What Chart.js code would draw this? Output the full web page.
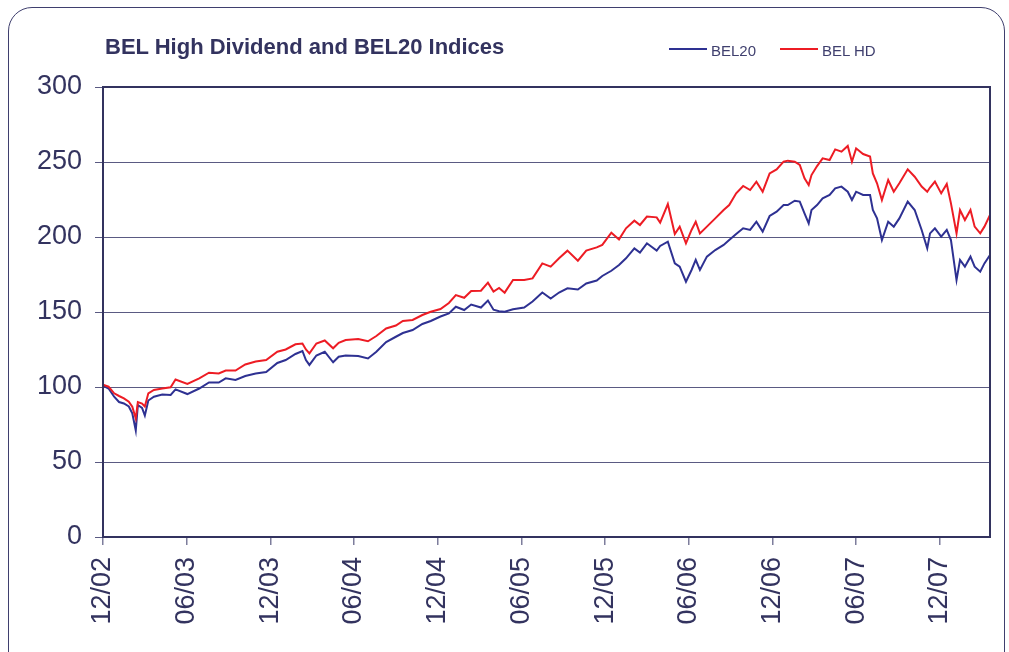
<!DOCTYPE html>
<html>
<head>
<meta charset="utf-8">
<script src="https://cdn.jsdelivr.net/npm/chart.js@4.4.0/dist/chart.umd.min.js"></script>
<style>
  html, body { margin: 0; padding: 0; background: #fff; overflow: hidden; }
  #wrap { position: relative; width: 1009px; height: 652px; }
  #frame { position: absolute; left: 8px; top: 7px; width: 995px; height: 720px;
           border: 1.5px solid #3f3f6e; border-radius: 24px; }
  #title { position: absolute; left: 105px; top: 34px; line-height: 22px; white-space: nowrap;
           font: bold 22px "Liberation Sans", Arial, sans-serif; color: #33335f; }
  .key { position: absolute; top: 42px; line-height: 15px; white-space: nowrap;
         font: 15px "Liberation Sans", Arial, sans-serif; color: #3f3f6e; }
  .swatch { position: absolute; top: 48px; width: 38px; height: 2px; }
  canvas { position: absolute; left: 0; top: 0; }
</style>
</head>
<body>
<div id="wrap">
  <div id="frame"></div>
  <canvas id="bel-chart" width="1009" height="652"></canvas>
  <div id="title">BEL High Dividend and BEL20 Indices</div>
  <div class="swatch" style="left:669px;background:#2e3192"></div>
  <div class="key" style="left:711px">BEL20</div>
  <div class="swatch" style="left:780px;background:#ed1c24"></div>
  <div class="key" style="left:822px">BEL HD</div>
</div>
<script>
// x values are months since Dec 2002
const tickMonths = [0, 6, 12, 18, 24, 30, 36, 42, 48, 54, 60]
const tickLabels = ['12/02', '06/03', '12/03', '06/04', '12/04', '06/05', '12/05', '06/06', '12/06', '06/07', '12/07']

const months = [
  0, 0.4, 0.8, 1.15, 1.5, 1.85, 2.1, 2.35, 2.5, 2.8,
  3.0, 3.25, 3.65, 4.25, 4.85, 5.2, 6.05, 6.9, 7.6, 8.3,
  8.8, 9.5, 10.2, 10.95, 11.7, 12.5, 13.1, 13.8, 14.3, 14.55,
  14.8, 15.3, 15.9, 16.5, 16.9, 17.4, 18.3, 19.0, 19.6, 20.3,
  21.0, 21.5, 22.2, 22.9, 23.5, 24.2, 24.8, 25.3, 25.9, 26.4,
  27.1, 27.6, 28.0, 28.4, 28.8, 29.4, 30.2, 30.8, 31.5, 32.1,
  32.7, 33.3, 34.05, 34.65, 35.4, 35.8, 36.45, 37.0, 37.5, 38.1,
  38.5, 39.0, 39.7, 39.95, 40.5, 41.0, 41.35, 41.8, 42.2, 42.5,
  42.8, 43.3, 43.9, 44.5, 44.9, 45.4, 45.9, 46.4, 46.85, 47.3,
  47.8, 48.3, 48.8, 49.1, 49.6, 49.96, 50.3, 50.6, 50.8, 51.2,
  51.6, 52.1, 52.5, 52.95, 53.4, 53.7, 54.0, 54.5, 55.0, 55.2,
  55.5, 55.85, 56.3, 56.7, 57.1, 57.7, 58.2, 58.7, 59.1, 59.3,
  59.65, 60.1, 60.5, 60.8, 61.2, 61.45, 61.8, 62.2, 62.5, 62.9,
  63.2, 63.6
]

const bel20 = [
  101, 99, 93.5, 90, 89, 87, 82.5, 71, 88, 86,
  81, 91, 93.5, 95, 94.7, 98.4, 95.3, 99, 103, 103,
  105.8, 104.7, 107.3, 109, 110, 116, 118, 122, 124, 118,
  114.7, 121, 123.5, 116.5, 120.2, 121, 120.7, 119, 123.5, 130,
  133.5, 136, 138, 142, 144, 147, 149, 153.5, 151.3, 155,
  153, 157.6, 151.5, 150.5, 150.2, 151.8, 153, 157, 163, 159,
  163, 165.8, 165, 169, 171, 174, 177.5, 181.3, 185.8, 192.4,
  189.6, 195.8, 190.9, 194, 196.9, 182.4, 180.2, 170.2, 178, 184.7,
  178, 186.9, 191.3, 194.7, 198, 202, 205.8, 204.7, 210.2, 203.6,
  214, 216.9, 221.3, 221.3, 224.2, 223.6, 215.8, 209.1, 218, 221.3,
  225.8, 228, 232.4, 233.6, 230.2, 224.7, 230.2, 228, 228, 218,
  212.4, 198, 210.2, 206.9, 212.4, 223.6, 218, 204.7, 192.4, 202.4,
  205.8, 200.2, 204.7, 198, 171.3, 184.7, 180.2, 186.9, 180.2, 176.9,
  182.4, 188
]

const belHd = [
  101.5, 100.2, 95.8, 94, 92.4, 90.2, 86.9, 79, 90, 89,
  87, 95.8, 98, 99, 99.8, 105, 102, 105.8, 109.5, 109,
  111, 111, 115, 117, 118, 123.5, 125, 128.5, 129, 125,
  122.4, 129, 131, 125.8, 129.5, 131.3, 132, 130.5, 134, 139,
  141, 144, 144.7, 148, 150.2, 152, 156, 161.3, 159.5, 164,
  164.2, 169.6, 163.6, 166, 162.9, 171.3, 171.3, 172.4, 182.4, 180.2,
  185.8, 190.9, 184.2, 190.9, 193.1, 194.7, 202.9, 198.4, 205.8, 210.9,
  208, 213.6, 213.1, 209.6, 222, 202, 206.9, 195.8, 204.7, 210.2,
  202.4, 206.9, 212.4, 218, 221.3, 229.1, 234, 231.3, 236.9, 230.2,
  242.4, 245.1, 250.2, 250.9, 250.2, 248, 239.1, 234.7, 241.3, 247.3,
  252.4, 251.3, 258.4, 256.9, 260.7, 250.2, 259.1, 255.3, 253.6, 242.4,
  235.8, 224.7, 238, 230.2, 235.8, 245.1, 240.2, 233.6, 230.2, 233,
  236.9, 229.1, 235.3, 222.4, 202.4, 218, 211.3, 218, 206.9, 202.4,
  206.9, 214.7
]

const axisFont = { family: '"Liberation Sans", Arial, sans-serif', size: 27 }
const inkColor = '#33335f'

// box around the plot area (top and right sides too)
const plotFrame = {
  id: 'plotFrame',
  afterDatasetsDraw(chart) {
    const { ctx, chartArea: a } = chart
    ctx.save()
    ctx.strokeStyle = inkColor
    ctx.lineWidth = 2
    ctx.strokeRect(a.left, a.top, a.right - a.left, a.bottom - a.top)
    ctx.restore()
  },
}

const belConfig = {
  type: 'line',
  data: {
    datasets: [
      {
        label: 'BEL20',
        borderColor: '#2e3192',
        order: 1,
        data: months.map((m, i) => ({ x: m, y: bel20[i] })),
      },
      {
        label: 'BEL HD',
        borderColor: '#ed1c24',
        order: 0,
        data: months.map((m, i) => ({ x: m, y: belHd[i] })),
      },
    ],
  },
  options: {
    responsive: false,
    animation: false,
    devicePixelRatio: 1,
    layout: { padding: { top: 87, right: 19, bottom: 0, left: 0 } },
    elements: {
      point: { radius: 0 },
      line: { borderWidth: 2, tension: 0 },
    },
    plugins: {
      legend: { display: false },
      title: { display: false },
      tooltip: { enabled: false },
    },
    scales: {
      x: {
        type: 'linear',
        min: 0,
        max: 63.6,
        afterBuildTicks: s => { s.ticks = tickMonths.map(v => ({ value: v })) },
        afterFit: s => { s.height = 115 },
        grid: { drawOnChartArea: false, tickLength: 8, color: '#7d7d9c', lineWidth: 1.5 },
        border: { color: inkColor, width: 2 },
        ticks: {
          autoSkip: false,
          minRotation: 90,
          maxRotation: 90,
          padding: 12,
          font: axisFont,
          color: inkColor,
          callback: (v, i) => tickLabels[i],
        },
      },
      y: {
        min: 0,
        max: 300,
        afterFit: s => { s.width = 103 },
        grid: { color: '#5a5a82', lineWidth: 1, tickLength: 8 },
        border: { color: inkColor, width: 2 },
        ticks: { stepSize: 50, padding: 13, font: axisFont, color: inkColor },
      },
    },
  },
  plugins: [plotFrame],
}

const belCanvas = document.getElementById('bel-chart')
window.belChart = new Chart(belCanvas, belConfig)
</script>
</body>
</html>
